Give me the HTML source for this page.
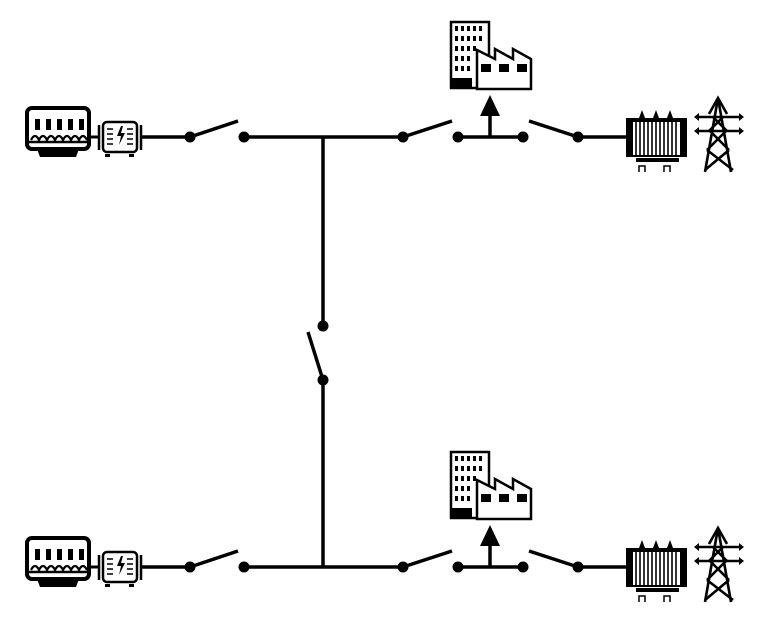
<!DOCTYPE html>
<html><head><meta charset="utf-8"><style>html,body{margin:0;padding:0;background:#fff}svg{display:block}</style></head><body>
<svg width="768" height="622" viewBox="0 0 768 622" xmlns="http://www.w3.org/2000/svg">
<defs>
<g id="row">
  <rect x="27" y="108" width="62" height="41" rx="5" fill="#fff" stroke="#000" stroke-width="4"/>
  <path d="M37 149 h42 l-3 8 h-36 z" fill="#000"/>
  <g fill="#000">
    <rect x="35" y="119" width="5" height="11"/><rect x="46" y="119" width="5" height="11"/><rect x="57" y="119" width="5" height="11"/><rect x="68" y="119" width="5" height="11"/><rect x="79" y="119" width="5" height="11"/>
  </g>
  <path d="M31 140 q4 -8 8 0 q4 -8 8 0 q4 -8 8 0 q4 -8 8 0 q4 -8 8 0 q4 -8 8 0 q4 -8 8 0" fill="none" stroke="#000" stroke-width="2.2"/>
  <line x1="25" y1="142" x2="88" y2="142" stroke="#000" stroke-width="2.5"/>
  <line x1="89" y1="137" x2="100" y2="137" stroke="#000" stroke-width="3"/>
  <line x1="99" y1="125" x2="99" y2="150" stroke="#000" stroke-width="2.5"/>
  <rect x="103" y="122" width="34" height="30" rx="4" fill="#fff" stroke="#000" stroke-width="2.5"/>
  <line x1="141" y1="125" x2="141" y2="150" stroke="#000" stroke-width="2.5"/>
  <g stroke="#000" stroke-width="1.5"><line x1="107" y1="129" x2="113" y2="129"/><line x1="107" y1="134" x2="113" y2="134"/><line x1="107" y1="139" x2="113" y2="139"/><line x1="107" y1="144" x2="113" y2="144"/><line x1="127" y1="129" x2="133" y2="129"/><line x1="127" y1="134" x2="133" y2="134"/><line x1="127" y1="139" x2="133" y2="139"/><line x1="127" y1="144" x2="133" y2="144"/></g>
  <path d="M121 126 l-4 10 h4 l-2 9 l6 -12 h-4 l2 -7 z" fill="#000"/>
  <rect x="105" y="154" width="5" height="3" fill="#000"/><rect x="129" y="154" width="5" height="3" fill="#000"/>
  <g stroke="#000" stroke-width="3.5" fill="none">
    <line x1="141" y1="137" x2="190" y2="137"/>
    <line x1="190" y1="137" x2="238" y2="121"/>
    <line x1="244" y1="137" x2="403" y2="137"/>
    <line x1="403" y1="137" x2="452" y2="121"/>
    <line x1="458" y1="137" x2="523" y2="137"/>
    <line x1="490" y1="137" x2="490" y2="113"/>
    <line x1="529" y1="121" x2="578" y2="137"/>
    <line x1="578" y1="137" x2="626" y2="137"/>
  </g>
  <g fill="#000">
    <circle cx="190" cy="137" r="5.5"/><circle cx="244" cy="137" r="5.5"/>
    <circle cx="403" cy="137" r="5.5"/><circle cx="458" cy="137" r="5.5"/>
    <circle cx="523" cy="137" r="5.5"/><circle cx="578" cy="137" r="5.5"/>
    <path d="M490 95 L500 116 L480 116 Z"/>
  </g>
  <rect x="451" y="22" width="38" height="66" fill="#fff" stroke="#000" stroke-width="2.5"/>
  <g fill="#000">
    <rect x="455" y="26" width="3" height="5"/><rect x="461" y="26" width="3" height="5"/><rect x="467" y="26" width="3" height="5"/><rect x="473" y="26" width="3" height="5"/><rect x="479" y="26" width="3" height="5"/>
    <rect x="455" y="36" width="3" height="5"/><rect x="461" y="36" width="3" height="5"/><rect x="467" y="36" width="3" height="5"/><rect x="473" y="36" width="3" height="5"/><rect x="479" y="36" width="3" height="5"/>
    <rect x="455" y="46" width="3" height="5"/><rect x="461" y="46" width="3" height="5"/><rect x="467" y="46" width="3" height="5"/><rect x="473" y="46" width="3" height="5"/>
    <rect x="455" y="56" width="3" height="5"/><rect x="461" y="56" width="3" height="5"/><rect x="467" y="56" width="3" height="5"/>
    <rect x="455" y="66" width="3" height="5"/><rect x="461" y="66" width="3" height="5"/><rect x="467" y="66" width="3" height="5"/>
    <rect x="452" y="78" width="20" height="10"/>
  </g>
  <path d="M477 50 L495 59 L495 49 L513 59 L513 49 L531 59 L531 89 L477 89 Z" fill="#fff" stroke="#000" stroke-width="2.5"/>
  <g fill="#000"><rect x="481" y="64" width="10" height="8"/><rect x="499" y="64" width="10" height="8"/><rect x="517" y="64" width="10" height="8"/></g>
  <rect x="626" y="118" width="61" height="39" fill="#000"/>
  <rect x="633" y="122" width="47" height="33" fill="#fff"/>
  <g stroke="#000" stroke-width="1.6">
    <line x1="636" y1="122" x2="636" y2="155"/><line x1="640" y1="122" x2="640" y2="155"/><line x1="644" y1="122" x2="644" y2="155"/><line x1="648" y1="122" x2="648" y2="155"/><line x1="652" y1="122" x2="652" y2="155"/><line x1="656" y1="122" x2="656" y2="155"/><line x1="660" y1="122" x2="660" y2="155"/><line x1="664" y1="122" x2="664" y2="155"/><line x1="668" y1="122" x2="668" y2="155"/><line x1="672" y1="122" x2="672" y2="155"/><line x1="676" y1="122" x2="676" y2="155"/>
  </g>
  <g fill="#000"><path d="M642 110 l3 8 h-6 z"/><path d="M656 110 l3 8 h-6 z"/><path d="M670 110 l3 8 h-6 z"/></g>
  <rect x="636" y="158" width="43" height="4" fill="#000"/>
  <path d="M639 172 v-6 h6 v6 M664 172 v-6 h6 v6" fill="none" stroke="#000" stroke-width="1.5"/>
  <g fill="none" stroke="#000" stroke-width="2.6">
    <path d="M718 98 L705 172 M718 98 L731 172"/>
    <path d="M697 117 L741 117 M697 131 L741 131 M709 114 L718 98 L727 114"/>
    <path d="M713 117 L727 131 M723 117 L709 131 M710 131 L729 150 M726 131 L707 150 M707 150 L733 170 M729 150 L705 170"/>
  </g>
  <g fill="#000"><path d="M694 117 l5 -4 v8 z"/><path d="M744 117 l-5 -4 v8 z"/><path d="M694 131 l5 -4 v8 z"/><path d="M744 131 l-5 -4 v8 z"/></g>
</g>
</defs>
<use href="#row"/>
<use href="#row" transform="translate(0,430)"/>
<g stroke="#000" stroke-width="3.5">
  <line x1="323" y1="137" x2="323" y2="326"/>
  <line x1="323" y1="380" x2="323" y2="567"/>
  <line x1="323" y1="380" x2="308" y2="332"/>
</g>
<circle cx="323" cy="326" r="5.5" fill="#000"/>
<circle cx="323" cy="380" r="5.5" fill="#000"/>
</svg>
</body></html>
